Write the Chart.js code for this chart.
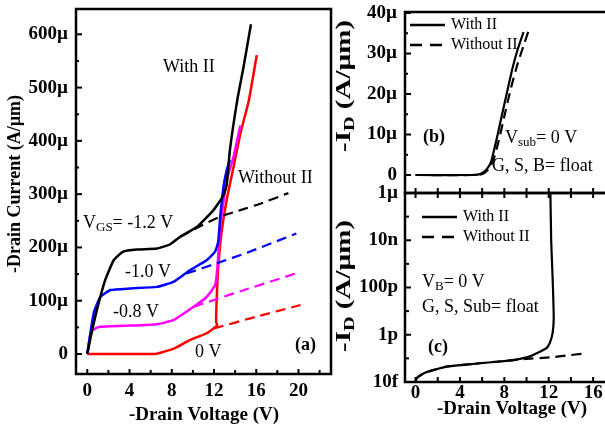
<!DOCTYPE html>
<html>
<head>
<meta charset="utf-8">
<script src="https://cdn.jsdelivr.net/npm/chart.js@4/dist/chart.umd.min.js"></script>
<style>
  html, body { margin: 0; padding: 0; background: #fff; overflow: hidden; }
  .panel { position: absolute; }
  .panel canvas { display: block; }
</style>
</head>
<body>
<div class="panel" style="left:0;top:0;width:335px;height:428px"><canvas id="chartA"></canvas></div>
<div class="panel" style="left:330px;top:0;width:285px;height:200px"><canvas id="chartB"></canvas></div>
<div class="panel" style="left:330px;top:175px;width:285px;height:253px"><canvas id="chartC"></canvas></div>
<script>
// ---- panel (a): output curves, current in µA/µm ----
const aXTicks = [0, 4, 8, 12, 16, 20];
const aXMinor = [2, 6, 10, 14, 18, 22];
const aYTicks = [0, 100, 200, 300, 400, 500, 600];
const aYLabels = ['0', '100µ', '200µ', '300µ', '400µ', '500µ', '600µ'];
const aYMinor = [50, 150, 250, 350, 450, 550];

const vgs12WithV = [0, 0.3, 0.9, 1.7, 2.5, 3.4, 4.7, 6.6, 7.85, 8.8, 10.4, 11.95, 12.9, 13.2, 13.5, 14.2, 14.8, 15.5];
const vgs12WithI = [0, 30, 82, 139, 176, 192, 196, 198, 206, 220, 239, 270, 298, 317, 382, 476, 539, 619];
const vgs12NoV = [8.8, 10.5, 12.6, 14.5, 16.5, 19.05];
const vgs12NoI = [220, 238, 258, 270, 283, 302];

const vgs10WithV = [0, 0.6, 1.23, 2.2, 4.07, 6.6, 8.2, 9.7, 11.3, 12.1, 12.4, 12.6, 12.9, 13.2, 13.5];
const vgs10WithI = [0, 76, 107, 120, 123, 126, 136, 157, 176, 192, 211, 260, 314, 345, 364];
const vgs10NoV = [9.4, 12.5, 15.1, 19.8];
const vgs10NoI = [151, 172, 190, 226];

const vgs08WithV = [0, 0.3, 0.6, 1.2, 3.5, 6.6, 8.2, 10.1, 11.3, 12.1, 12.3, 12.6, 13.2, 13.85, 14.5];
const vgs08WithI = [0, 39, 46, 51, 53, 56, 64, 89, 107, 129, 157, 240, 326, 370, 429];
const vgs08NoV = [10.1, 15.0, 20.2];
const vgs08NoI = [89, 121, 154];

const vgs0WithV = [0, 6.3, 7.0, 8.2, 9.7, 11.3, 12.3, 12.2, 12.25, 12.4, 12.7, 13.2, 13.85, 14.5, 15.3, 16.05];
const vgs0WithI = [0, 0, 3, 10, 26, 39, 54, 60, 100, 164, 226, 289, 351, 414, 476, 561];
const vgs0NoV = [12.0, 16.0, 20.2];
const vgs0NoI = [48, 70, 92];

// ---- panel (b): linear, µA/µm ----
const bcXTicks = [0, 4, 8, 12, 16];
const bcXMinor = [0, 2, 4, 6, 8, 10, 12, 14, 16];
const bYTicks = [0, 10, 20, 30, 40];
const bYLabels = ['0', '10µ', '20µ', '30µ', '40µ'];
const bYMinor = [5, 15, 25, 35];

const bWithV = [0, 5.0, 5.6, 6.0, 6.4, 6.8, 7.4, 8.0, 8.7, 9.2, 9.73];
const bWithI = [0, 0, 0.1, 0.5, 1.4, 3.2, 10, 17.5, 26, 31, 35.3];
const bNoV = [0, 5.2, 5.8, 6.2, 6.6, 7.0, 7.5, 8.0, 8.6, 9.2, 9.8, 10.3];
const bNoI = [0, 0, 0.1, 0.5, 1.5, 3.5, 8.5, 14.5, 21.5, 27.5, 32.5, 36.6];

// ---- panel (c): log, A/µm ----
const cYTicks = [1e-14, 1e-12, 1e-10, 1e-8, 1e-6];
const cYLabels = ['10f', '1p', '100p', '10n', '1µ'];
const cYMinor = [1e-13, 1e-11, 1e-9, 1e-7];

const cWithV = [0, 0.2, 0.8, 1.5, 2.8, 4.3, 5.8, 7.3, 8.8, 10.0, 10.6, 11.2, 11.8, 12.1, 12.35, 12.45, 12.38, 12.3, 12.22, 12.15];
const cWithI = [1.2e-14, 1.6e-14, 2.4e-14, 3.1e-14, 4.5e-14, 5.3e-14, 6.2e-14, 7.2e-14, 8.5e-14, 1.1e-13, 1.4e-13, 1.9e-13, 2.7e-13, 4.5e-13, 1.2e-12, 5e-12, 1e-10, 1e-9, 1e-8, 1e-6];
const cNoV = [0, 0.2, 0.8, 1.5, 2.8, 4.3, 5.8, 7.3, 8.8, 10.0, 12.1, 13.8, 15.4];
const cNoI = [1.2e-14, 1.6e-14, 2.4e-14, 3.1e-14, 4.5e-14, 5.3e-14, 6.2e-14, 7.2e-14, 8.5e-14, 9.5e-14, 1.1e-13, 1.35e-13, 1.65e-13];

Chart.defaults.font.family = '"Liberation Serif", "DejaVu Serif", serif';
Chart.defaults.color = '#000';

const FONT = '"Liberation Serif", serif';

function series(xs, ys, color, dashed, width) {
  return {
    data: xs.map((x, i) => ({ x: x, y: ys[i] })),
    borderColor: color,
    borderWidth: width,
    borderDash: dashed ? [10, 6] : [],
    pointRadius: 0,
    fill: false,
    tension: 0.15
  };
}

// text with optional subscript parts: [[text, isSub], ...]
function drawRich(ctx, x, y, parts, size, weight, align) {
  const sub = Math.round(size * 0.72);
  let w = 0;
  parts.forEach(p => {
    ctx.font = weight + ' ' + (p[1] ? sub : size) + 'px ' + FONT;
    w += ctx.measureText(p[0]).width;
  });
  let cx = align === 'center' ? x - w / 2 : x;
  ctx.textAlign = 'left';
  ctx.textBaseline = 'middle';
  parts.forEach(p => {
    ctx.font = weight + ' ' + (p[1] ? sub : size) + 'px ' + FONT;
    ctx.fillText(p[0], cx, p[1] ? y + size * 0.28 : y);
    cx += ctx.measureText(p[0]).width;
  });
}

// frame, inward ticks, annotations
function decoPlugin(cfg) {
  return {
    id: 'deco',
    afterDraw(chart) {
      const ctx = chart.ctx, a = chart.chartArea;
      const sx = chart.scales.x, sy = chart.scales.y;
      ctx.save();
      ctx.fillStyle = '#000';
      ctx.strokeStyle = '#000';
      ctx.lineWidth = 2.5;
      ctx.strokeRect(a.left, a.top, a.right - a.left, a.bottom - a.top);
      ctx.lineWidth = 2;
      (cfg.ticks || []).forEach(t => {
        t.values.forEach(v => {
          ctx.beginPath();
          if (t.side === 'left') {
            const p = sy.getPixelForValue(v);
            ctx.moveTo(a.left, p); ctx.lineTo(a.left + t.len, p);
          } else if (t.side === 'bottom') {
            const p = sx.getPixelForValue(v);
            ctx.moveTo(p, a.bottom); ctx.lineTo(p, a.bottom - t.len);
          } else {
            const p = sx.getPixelForValue(v);
            ctx.moveTo(p, a.top); ctx.lineTo(p, a.top + t.len);
          }
          ctx.stroke();
        });
      });
      const ox = cfg.ox, oy = cfg.oy;
      (cfg.legend || []).forEach(l => {
        ctx.beginPath();
        ctx.lineWidth = 2.5;
        ctx.setLineDash(l.dash ? [12, 8] : []);
        ctx.moveTo(l.x1 - ox, l.y - oy); ctx.lineTo(l.x2 - ox, l.y - oy);
        ctx.stroke();
        ctx.setLineDash([]);
        drawRich(ctx, l.x2 + 6 - ox, l.y - oy, [[l.text, 0]], 16, 'normal', 'left');
      });
      (cfg.texts || []).forEach(t => {
        if (t.rot) {
          ctx.save();
          ctx.translate(t.x - ox, t.y - oy);
          ctx.rotate(-Math.PI / 2);
          ctx.scale(t.stretch || 1, 1);
          drawRich(ctx, 0, 0, t.parts, t.size, t.weight, 'center');
          ctx.restore();
        } else {
          drawRich(ctx, t.x - ox, t.y - oy, t.parts, t.size, t.weight, t.align || 'left');
        }
      });
      ctx.restore();
    }
  };
}

function axis(min, max, type, ticks, labels, padding, fit, showLabels) {
  return {
    type: type,
    min: min,
    max: max,
    grid: { display: false, drawTicks: false },
    border: { display: false },
    ticks: {
      display: showLabels,
      autoSkip: false,
      maxRotation: 0,
      padding: padding,
      color: '#000',
      font: { size: 19, weight: 'bold' },
      callback: (v, i) => labels[i]
    },
    afterBuildTicks: s => { s.ticks = ticks.map(v => ({ value: v })); },
    afterFit: s => {
      if (s.isHorizontal()) s.height = fit; else s.width = fit;
      s.paddingTop = 0; s.paddingBottom = 0; s.paddingLeft = 0; s.paddingRight = 0;
    }
  };
}

function options(pad, xScale, yScale) {
  return {
    responsive: true,
    maintainAspectRatio: false,
    animation: false,
    layout: { padding: pad },
    plugins: { legend: { display: false }, tooltip: { enabled: false } },
    scales: { x: xScale, y: yScale }
  };
}

// panel (a)
new Chart(document.getElementById('chartA'), {
  type: 'line',
  data: {
    datasets: [
      series(vgs12NoV, vgs12NoI, '#000000', true, 2.2),
      series(vgs10NoV, vgs10NoI, '#0000ff', true, 2.2),
      series(vgs08NoV, vgs08NoI, '#ff00ff', true, 2.2),
      series(vgs0NoV, vgs0NoI, '#ff0000', true, 2.2),
      series(vgs12WithV, vgs12WithI, '#000000', false, 2.5),
      series(vgs10WithV, vgs10WithI, '#0000ff', false, 2.5),
      series(vgs08WithV, vgs08WithI, '#ff00ff', false, 2.5),
      series(vgs0WithV, vgs0WithI, '#ff0000', false, 2.5)
    ]
  },
  options: options({ top: 9, right: 4, left: 0, bottom: 0 },
    axis(-1.07, 23.08, 'linear', aXTicks, aXTicks.map(String), 6, 54, true),
    axis(-37.5, 647.5, 'linear', aYTicks, aYLabels, 8, 76, true)),
  plugins: [decoPlugin({
    ox: 0, oy: 0,
    ticks: [
      { side: 'left', values: aYTicks, len: 6 },
      { side: 'left', values: aYMinor, len: 3 },
      { side: 'bottom', values: aXTicks, len: 5 },
      { side: 'bottom', values: aXMinor, len: 4 }
    ],
    texts: [
      { x: 15, y: 184, rot: true, parts: [['-Drain Current (A/µm)', 0]], size: 18, weight: 'bold' },
      { x: 204, y: 415, parts: [['-Drain Voltage (V)', 0]], size: 19, weight: 'bold', align: 'center' },
      { x: 163, y: 67, parts: [['With II', 0]], size: 18, weight: 'normal' },
      { x: 238, y: 178, parts: [['Without II', 0]], size: 18, weight: 'normal' },
      { x: 83, y: 223, parts: [['V', 0], ['GS', 1], ['= -1.2 V', 0]], size: 18, weight: 'normal' },
      { x: 125, y: 272, parts: [['-1.0 V', 0]], size: 18, weight: 'normal' },
      { x: 113, y: 312, parts: [['-0.8 V', 0]], size: 18, weight: 'normal' },
      { x: 195, y: 352, parts: [['0 V', 0]], size: 18, weight: 'normal' },
      { x: 295, y: 345, parts: [['(a)', 0]], size: 18, weight: 'bold' }
    ]
  })]
});

// panel (b)
new Chart(document.getElementById('chartB'), {
  type: 'line',
  data: {
    datasets: [
      series(bNoV, bNoI, '#000000', true, 2.2),
      series(bWithV, bWithI, '#000000', false, 2.2)
    ]
  },
  options: options({ top: 12, right: 5, left: 0, bottom: 0 },
    axis(-0.95, 17.52, 'linear', bcXTicks, bcXTicks.map(String), 6, 7, false),
    axis(-4.44, 40.25, 'linear', bYTicks, bYLabels, 8, 75, true)),
  plugins: [decoPlugin({
    ox: 330, oy: 0,
    ticks: [
      { side: 'left', values: bYTicks, len: 6 },
      { side: 'left', values: bYMinor, len: 3 },
      { side: 'bottom', values: bcXMinor, len: 5 }
    ],
    legend: [
      { x1: 410, x2: 445, y: 25, dash: false, text: 'With II' },
      { x1: 410, x2: 445, y: 45, dash: true, text: 'Without II' }
    ],
    texts: [
      { x: 345, y: 86, rot: true, stretch: 1.45, parts: [['-I', 0], ['D', 1], [' (A/µm)', 0]], size: 20, weight: 'bold' },
      { x: 423, y: 137, parts: [['(b)', 0]], size: 18, weight: 'bold' },
      { x: 505, y: 138, parts: [['V', 0], ['sub', 1], ['= 0 V', 0]], size: 18, weight: 'normal' },
      { x: 492, y: 166, parts: [['G, S, B= float', 0]], size: 18, weight: 'normal' }
    ]
  })]
});

// panel (c)
new Chart(document.getElementById('chartC'), {
  type: 'line',
  data: {
    datasets: [
      series(cNoV, cNoI, '#000000', true, 2.2),
      series(cWithV, cWithI, '#000000', false, 2.2)
    ]
  },
  options: options({ top: 18, right: 5, left: 0, bottom: 0 },
    axis(-0.95, 17.52, 'linear', bcXTicks, bcXTicks.map(String), 0, 46, true),
    axis(1e-14, 1e-6, 'logarithmic', cYTicks, cYLabels, 7, 75, true)),
  plugins: [decoPlugin({
    ox: 330, oy: 175,
    ticks: [
      { side: 'left', values: cYTicks, len: 6 },
      { side: 'left', values: cYMinor, len: 4 },
      { side: 'top', values: bcXMinor, len: 5 },
      { side: 'bottom', values: bcXMinor, len: 5 }
    ],
    legend: [
      { x1: 422, x2: 457, y: 217, dash: false, text: 'With II' },
      { x1: 422, x2: 457, y: 237, dash: true, text: 'Without II' }
    ],
    texts: [
      { x: 345, y: 286, rot: true, stretch: 1.45, parts: [['-I', 0], ['D', 1], [' (A/µm)', 0]], size: 20, weight: 'bold' },
      { x: 512, y: 409, parts: [['-Drain Voltage (V)', 0]], size: 19, weight: 'bold', align: 'center' },
      { x: 422, y: 282, parts: [['V', 0], ['B', 1], ['= 0 V', 0]], size: 18, weight: 'normal' },
      { x: 422, y: 307, parts: [['G, S, Sub= float', 0]], size: 18, weight: 'normal' },
      { x: 428, y: 347, parts: [['(c)', 0]], size: 18, weight: 'bold' }
    ]
  })]
});
</script>
</body>
</html>
